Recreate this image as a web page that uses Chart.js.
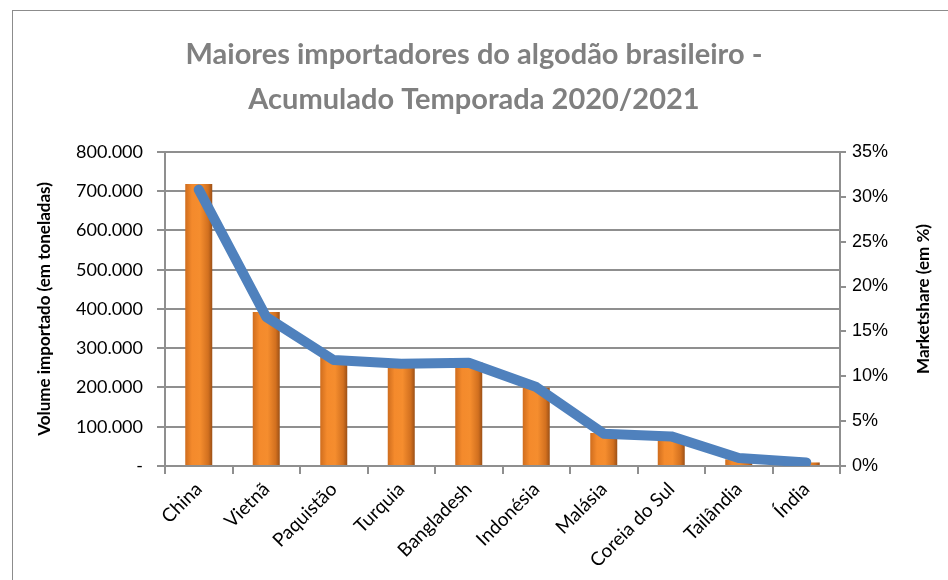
<!DOCTYPE html>
<html>
<head>
<meta charset="utf-8">
<script src="https://cdn.jsdelivr.net/npm/chart.js@4"></script>
<style>
	body { margin: 0; background: white; overflow: hidden; }
	#frame { position: absolute; left: 12px; top: 10px; width: 1000px; height: 1000px; border: 1.5px solid #8c8c8c; }
	#wrap { position: absolute; left: 0; top: 0; width: 948px; height: 580px; }
</style>
</head>
<body>
<div id="frame"></div>
<div id="wrap"><canvas id="chart-1" width="948" height="580"></canvas></div>
<script>

var paises = ["China", "Vietnã", "Paquistão", "Turquia", "Bangladesh", "Indonésia", "Malásia", "Coreia do Sul", "Tailândia", "Índia"];
var volume = [718000, 392000, 278000, 257000, 265000, 199000, 84000, 68000, 17000, 9000];
var marketshare = [30.8, 16.6, 11.8, 11.4, 11.5, 8.8, 3.6, 3.3, 0.9, 0.4];

var tituloDireita = "Marketshare (em %)";
var cinza = "#8f8f8f";

//gradiente laranja de cada barra, feito a partir da escala x
function corBarra(context) {
	var chart = context.chart;
	var area = chart.chartArea;
	var xs = chart.scales.x;
	if (!area || !xs) return "#e87d25";
	var cx = xs.getPixelForValue(context.dataIndex);
	var w = area.width / paises.length * 0.4;
	if (!isFinite(cx)) return "#e87d25";
	var g = chart.ctx.createLinearGradient(cx - w / 2, 0, cx + w / 2, 0);
	g.addColorStop(0, "#cf6d1e");
	g.addColorStop(0.25, "#f48a2c");
	g.addColorStop(0.55, "#f58d2e");
	g.addColorStop(0.85, "#d2701f");
	g.addColorStop(1, "#9c5016");
	return g;
}

//titulo do eixo da direita lido de baixo para cima
var tituloEixoDireita = {
	id: "tituloEixoDireita",
	afterDraw: function(chart) {
		var ctx = chart.ctx;
		var area = chart.chartArea;
		ctx.save();
		ctx.translate(924, (area.top + area.bottom) / 2 - 10);
		ctx.rotate(-Math.PI / 2);
		ctx.font = "bold 17px Lato";
		ctx.fillStyle = "#000";
		ctx.textAlign = "center";
		ctx.textBaseline = "middle";
		ctx.fillText(tituloDireita, 0, 0);
		ctx.restore();
	}
};

var data1 = {
	labels: paises,
	datasets: [{
		type: "line",
		label: "Marketshare",
		data: marketshare,
		yAxisID: "y1",
		borderColor: "#4f81bd",
		borderWidth: 10,
		pointRadius: 0,
		borderCapStyle: "round",
		borderJoinStyle: "round",
		lineTension: 0
	}, {
		type: "bar",
		label: "Volume",
		data: volume,
		yAxisID: "y",
		backgroundColor: corBarra,
		barPercentage: 0.4,
		categoryPercentage: 1
	}]
};

var options1 = {
	responsive: false,
	animation: false,
	layout: { padding: 0 },
	plugins: {
		legend: { display: false },
		tooltip: { enabled: false },
		title: {
			display: true,
			text: ["Maiores importadores do algodão brasileiro -", "Acumulado Temporada 2020/2021"],
			color: "#808080",
			font: { family: "Lato", size: 29, weight: "bold", lineHeight: 1.55 },
			padding: { top: 32, bottom: 30 }
		}
	},
	scales: {
		x: {
			afterFit: function(s) { s.height = 114; },
			grid: {
				offset: true,
				drawOnChartArea: false,
				tickLength: 8,
				color: cinza,
				lineWidth: 2
			},
			border: { color: cinza, width: 2 },
			ticks: {
				maxRotation: 45,
				minRotation: 45,
				padding: 4,
				color: "#000",
				font: { family: "Lato", size: 19 }
			}
		},
		y: {
			position: "left",
			min: 0,
			max: 800000,
			afterFit: function(s) { s.width = 165; },
			grid: { color: cinza, lineWidth: 2, tickLength: 8 },
			border: { color: cinza, width: 2 },
			ticks: {
				stepSize: 100000,
				padding: 14,
				color: "#000",
				font: { family: "Lato", size: 18 },
				callback: function(v) {
					if (v == 0) return "-";
					return v.toLocaleString("de-DE");
				}
			},
			title: {
				display: true,
				text: "Volume importado (em toneladas)",
				color: "#000",
				font: { family: "Lato", size: 17, weight: "bold", lineHeight: 1.2 },
				padding: { top: 34, bottom: 0 }
			}
		},
		y1: {
			position: "right",
			min: 0,
			max: 35,
			afterFit: function(s) { s.width = 108; },
			grid: { drawOnChartArea: false, color: cinza, lineWidth: 2, tickLength: 6 },
			border: { color: cinza, width: 2 },
			ticks: {
				stepSize: 5,
				padding: 6,
				color: "#000",
				font: { family: "Liberation Sans", size: 18 },
				callback: function(v) { return v + "%"; }
			}
		}
	}
};

var graph = new Chart("chart-1", {
	data: data1,
	options: options1,
	plugins: [tituloEixoDireita]
});
</script>
</body>
</html>
